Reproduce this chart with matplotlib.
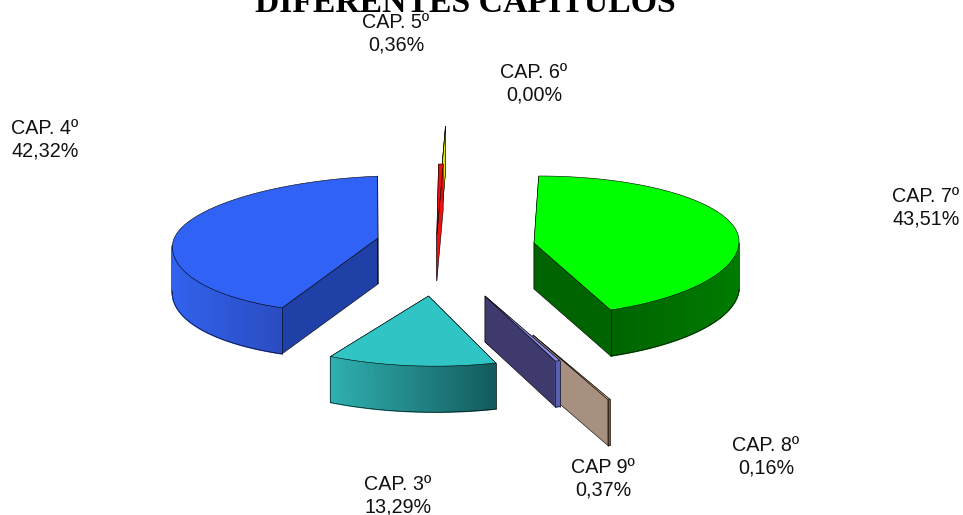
import numpy as np
import matplotlib
matplotlib.use("Agg")
import matplotlib.pyplot as plt
from matplotlib.colors import to_rgb

# --- data (clockwise from 12 o'clock)
categories = ["CAP. 7º", "CAP. 8º", "CAP 9º", "CAP. 3º", "CAP. 4º", "CAP. 5º", "CAP. 6º"]
values = [43.51, 0.16, 0.37, 13.29, 42.32, 0.36, 0.00]
title = "DIFERENTES CAPITULOS"

# --- layout / style per slice, same order
apex = [(534, 243), (533, 335), (485, 296), (428.5, 296), (378, 238), (436.8, 235), (439.5, 195)]
skew = [-0.07, -0.07, -0.07, -0.115, -0.07, -0.09, -0.087]
tilt = [0, 0, 0, 5, -7, 0, 0]
ry_top = [67, 68, 68, 68, 62, 71, 69]
ry_bot = [73, 70, 70, 70, 74.5, 70, 70]
top_col = ["#00ff00", "#e8b890", "#8a8ae8", "#30c4c4", "#2f62f5", "#ee1111", "#e6e600"]
cut_col = ["#006400", "#a89080", "#3f3a6e", "#1a8c8c", "#1f40a6", "#ee1111", "#e6e600"]
wall_l = ["#006400", "#7a5a3a", "#5a5fb0", "#2fb0b0", "#3162ee", "#cc1111", "#c0c000"]
wall_r = ["#007c00", "#7a5a3a", "#5a5fb0", "#145a5c", "#2a4cc0", "#cc1111", "#c0c000"]
label_xy = [(926, 208), (766, 457), (603, 479), (398, 496), (45, 140), (396, 34), (534, 84)]
RX, DEPTH = 205, 46
EDGE = 0.4

plt.rcParams["font.family"] = ["Liberation Sans", "DejaVu Sans"]
fig = plt.figure(figsize=(9.63, 5.15), dpi=100)
ax = fig.add_axes([0, 0, 1, 1])
ax.set_xlim(0, 963)
ax.set_ylim(515, 0)
ax.axis("off")


def pt(i, t):
    """Project angle t (degrees clockwise from top) of slice i."""
    r = np.radians(t)
    c, s = np.cos(r), np.sin(r)
    dy = (-ry_top[i] * c if c > 0 else -ry_bot[i] * c) + tilt[i] * s
    return apex[i][0] + RX * s + skew[i] * dy, apex[i][1] + dy


def face(i, t, col, z):
    a, o = apex[i], pt(i, t)
    ax.fill([a[0], o[0], o[0], a[0]], [a[1], o[1], o[1] + DEPTH, a[1] + DEPTH],
            fc=col, ec="black", lw=EDGE, zorder=z)


order = [4, 0, 6, 5, 1, 2, 3]
bounds = np.concatenate([[0], np.cumsum(values)]) / sum(values) * 360
for z0, i in enumerate(order):
    t0, t1 = bounds[i], bounds[i + 1]
    z = 10 * (z0 + 1)
    face(i, t0, cut_col[i], z)
    face(i, t1, cut_col[i], z + 1)
    # outer wall, only the part turned towards the viewer
    a, b = max(t0, 90), min(t1, 270)
    if b > a:
        ts = np.linspace(a, b, max(int((b - a) * 2), 2))
        P = np.array([pt(i, t) for t in ts])
        xmin, xmax = P[:, 0].min(), P[:, 0].max()
        cl, cr = np.array(to_rgb(wall_l[i])), np.array(to_rgb(wall_r[i]))
        for k in range(len(ts) - 1):
            f = ((P[k, 0] + P[k + 1, 0]) / 2 - xmin) / max(xmax - xmin, 1e-6)
            col = cl + (cr - cl) * f
            ax.fill([P[k, 0], P[k + 1, 0], P[k + 1, 0], P[k, 0]],
                    [P[k, 1], P[k + 1, 1], P[k + 1, 1] + DEPTH, P[k, 1] + DEPTH],
                    fc=col, ec=col, lw=1.0, zorder=z + 2)
        ax.plot(P[:, 0], P[:, 1] + DEPTH, color="black", lw=EDGE, zorder=z + 3)
        if a == t0:
            ax.plot([P[0, 0]] * 2, [P[0, 1], P[0, 1] + DEPTH], color="black", lw=EDGE, zorder=z + 3)
        if b == t1:
            ax.plot([P[-1, 0]] * 2, [P[-1, 1], P[-1, 1] + DEPTH], color="black", lw=EDGE, zorder=z + 3)
    # top surface
    ts = np.linspace(t0, t1, max(int(t1 - t0) * 2, 2))
    P = np.array([pt(i, t) for t in ts])
    ax.fill(np.r_[apex[i][0], P[:, 0]], np.r_[apex[i][1], P[:, 1]],
            fc=top_col[i], ec="black", lw=EDGE, zorder=z + 4)

for name, v, (x, y) in zip(categories, values, label_xy):
    txt = name + "\n" + f"{v:.2f}".replace(".", ",") + "%"
    ax.text(x, y, txt, ha="center", va="center", fontsize=14.2, color="#111111",
            linespacing=1.22, zorder=200)

ax.text(465, 12, title, ha="center", va="baseline", fontsize=24.3, fontweight="bold",
        family="Liberation Serif", color="black", zorder=100)

fig.savefig("out.png", dpi=100)
